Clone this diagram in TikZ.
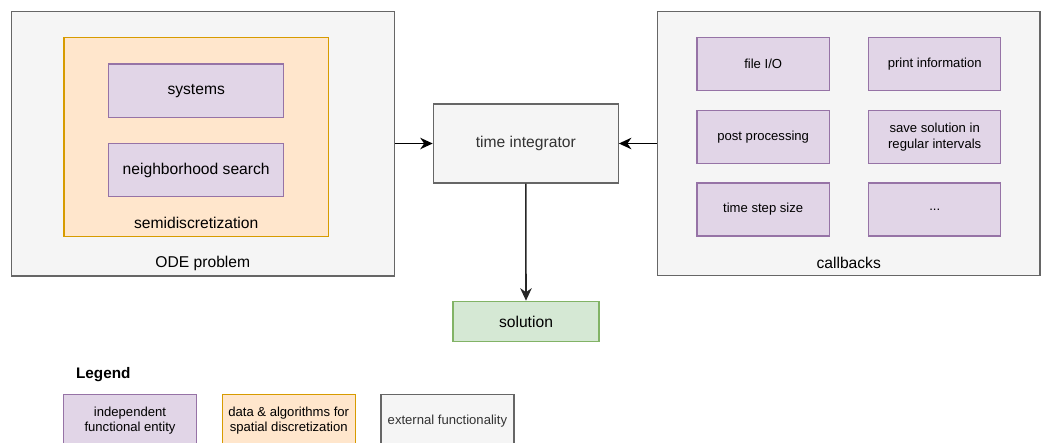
\documentclass[tikz,border=0pt]{standalone}
\usepackage{fontspec}
\setmainfont{Liberation Sans}
\usepackage{xcolor}
\usetikzlibrary{positioning}
\usetikzlibrary{arrows.meta}
\tikzset{>={Stealth[width=2.3mm,length=2.5mm,inset=0.8mm]}}

\definecolor{purplefill}{HTML}{E1D5E7}
\definecolor{purpleline}{HTML}{9673A6}
\definecolor{orangefill}{HTML}{FFE6CC}
\definecolor{orangeline}{HTML}{D79B00}
\definecolor{grayfill}{HTML}{F5F5F5}
\definecolor{grayline}{HTML}{666666}
\definecolor{graytext}{HTML}{333333}
\definecolor{greenfill}{HTML}{D5E8D4}
\definecolor{greenline}{HTML}{82B366}

\begin{document}
\begin{tikzpicture}[font=\fontsize{8.9}{10.5}\selectfont, entity/.style={rectangle, draw=purpleline, fill=purplefill, line width=0.7pt, minimum width=3.5cm, minimum height=1.066cm, inner sep=0pt, outer sep=0pt}, cbentity/.style={entity, minimum width=2.646cm, minimum height=1.06cm, align=center, font=\fontsize{7.45}{9.2}\selectfont}, spatial/.style={rectangle, draw=orangeline, fill=orangefill, line width=0.7pt, inner sep=0pt}, external/.style={rectangle, draw=grayline, fill=grayfill, line width=0.7pt, inner sep=0pt}, legendbox/.style={rectangle, line width=0.7pt, minimum width=2.66cm, minimum height=1.06cm, align=center, inner sep=0pt, outer sep=0pt, font=\fontsize{7.45}{8.5}\selectfont}]

    \useasboundingbox (0,0) rectangle (20.92,-8.86);

    %Containers
    \node[external, minimum width=7.66cm, minimum height=5.286cm](ode) at (4.056,-2.877){};
    \node[spatial, minimum width=5.286cm, minimum height=3.972cm](semi) at (3.924,-2.74){};
    \node[external, minimum width=7.654cm, minimum height=5.272cm](callbacks) at (16.974,-2.87){};

    %Nodes
    \node[entity](systems) at (3.924,-1.814){systems};
    \node[entity](nhs)[below=0.52cm of systems]{neighborhood search};
    \node(semilabel) at ([yshift=0.274cm]semi.south){semidiscretization};
    \node(odelabel) at ([yshift=0.254cm]ode.south){ODE problem};
    \node[external, minimum width=3.7cm, minimum height=1.58cm, text=graytext](integrator) at (10.516,-2.87){time integrator};
    \node[rectangle, draw=greenline, fill=greenfill, line width=0.7pt, minimum width=2.92cm, minimum height=0.808cm](solution) at (10.52,-6.43){solution};

    \node[cbentity](fileio) at (15.264,-1.284){file I/O};
    \node[cbentity](print)[right=0.784cm of fileio]{print information};
    \node[cbentity](postproc)[below=0.392cm of fileio]{post processing};
    \node[cbentity](save)[right=0.784cm of postproc]{save solution in\\regular intervals};
    \node[cbentity](dtsize)[below=0.392cm of postproc]{time step size};
    \node[cbentity](more)[right=0.784cm of dtsize]{...};
    \node(cblabel) at ([yshift=0.254cm]callbacks.south){callbacks};

    %Legend
    \node[font=\bfseries\fontsize{8.7}{10}\selectfont](legend) at (2.066,-7.486){Legend};
    \node[legendbox, draw=purpleline, fill=purplefill](leg_entity) at (2.6,-8.416){independent\\functional entity};
    \node[legendbox, draw=orangeline, fill=orangefill](leg_spatial)[right=0.514cm of leg_entity]{data \& algorithms for\\spatial discretization};
    \node[legendbox, draw=grayline, fill=grayfill, text=graytext](leg_external)[right=0.514cm of leg_spatial]{external functionality};

    %Lines
    \draw[->, line width=0.7pt] (ode.east |- integrator.west) -- (integrator.west);
    \draw[->, line width=0.7pt] (callbacks.west |- integrator.east) -- (integrator.east);
    \draw[->, line width=0.9pt, draw=black!85, fill=black!85] (integrator.south) -- (solution.north);

\end{tikzpicture}
\end{document}
